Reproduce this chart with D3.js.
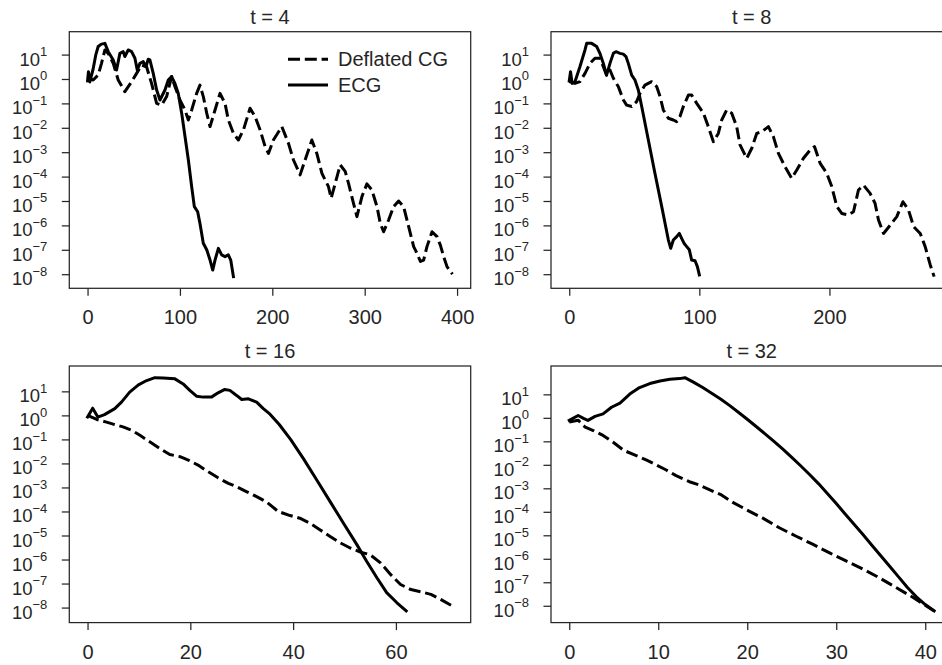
<!DOCTYPE html>
<html>
<head>
<meta charset="utf-8">
<script src="https://cdn.jsdelivr.net/npm/d3@7/dist/d3.min.js"></script>
<style>
  html, body { margin: 0; padding: 0; background: #fff; }
  svg { display: block; overflow: hidden; }
  text { font-family: "Liberation Sans", Arial, sans-serif; fill: #262626; }
</style>
</head>
<body>
<svg id="chart" width="942" height="665"></svg>
<script>
// ---------------- DATA (x = iteration, y = log10 of residual) ----------------
const panelTitles = ["t = 4", "t = 8", "t = 16", "t = 32"];
const seriesNames = ["Deflated CG", "ECG"];

const t4XTicks = [0, 100, 200, 300, 400];
const t8XTicks = [0, 100, 200];
const t16XTicks = [0, 20, 40, 60];
const t32XTicks = [0, 10, 20, 30, 40];
const yTickExponents = [1, 0, -1, -2, -3, -4, -5, -6, -7, -8];

const t4Ecg = [[0,-0.08],[1,0.3],[2.5,-0.12],[6,0.4],[9,1.0],[11.5,1.33],[15,1.43],[18.8,1.46],[22.4,1.12],[27.8,0.78],[31.4,0.37],[35,1.05],[38.6,1.12],[40.4,0.92],[44,1.19],[47.7,1.12],[51.3,0.85],[53.8,0.37],[56.7,0.64],[60.3,0.71],[63.2,0.5],[65.7,0.81],[67.5,0.78],[71.1,0.23],[74.8,-0.45],[78.4,-0.86],[83.8,-0.45],[87.4,-0.04],[91,0.1],[94.6,-0.18],[98.2,-0.59],[101.9,-1.4],[105.5,-2.36],[109.1,-3.31],[112.7,-4.41],[115.6,-5.23],[119.2,-5.44],[121.7,-5.92],[125.3,-6.73],[129,-7.0],[132.6,-7.42],[135.5,-7.83],[138,-7.42],[141.6,-6.94],[145.2,-7.21],[148.8,-7.28],[152.4,-7.21],[155,-7.42],[157.9,-8.1]];
const t4Dcg = [[0,0.03],[6.1,-0.04],[11.5,0.16],[15.1,0.64],[18.8,1.19],[22.4,1.05],[27.8,0.64],[33.2,-0.04],[40.4,-0.52],[47.7,-0.11],[53.1,0.23],[58.5,0.57],[63.9,0.5],[69.3,-0.18],[74.8,-1.0],[80.2,-1.07],[85.6,-0.72],[91,0.1],[94.6,-0.31],[100,-0.86],[105.5,-1.27],[109.1,-1.68],[112.7,-1.27],[118.1,-0.59],[121.7,-0.25],[125.3,-0.72],[129,-1.4],[132.6,-1.95],[138,-1.27],[143.4,-0.59],[148.8,-1.0],[152.4,-1.68],[157.9,-2.23],[163.3,-2.5],[168.7,-2.09],[175.9,-1.2],[181.3,-1.54],[186.8,-2.09],[192.2,-2.77],[195.8,-3.05],[201.2,-2.5],[210.3,-1.95],[217.5,-2.64],[222.9,-3.32],[230.1,-3.93],[235.5,-3.32],[242.8,-2.5],[248.2,-3.05],[253.7,-3.87],[260.8,-4.41],[263.7,-4.89],[268.1,-4.28],[273.5,-3.52],[278.9,-3.79],[282.5,-4.28],[287.9,-5.1],[291.6,-5.64],[297,-4.82],[302.4,-4.3],[307.8,-4.55],[313.3,-5.23],[316.9,-5.92],[320.5,-6.26],[325.9,-5.78],[331.3,-5.23],[336.7,-5.0],[342.1,-5.23],[347.6,-6.05],[353,-6.87],[356.6,-7.14],[360.3,-7.48],[363.8,-7.42],[367.4,-6.87],[372.9,-6.26],[378.3,-6.46],[381.9,-6.81],[385.5,-7.28],[389.1,-7.69],[395,-8.0]];

const t8Ecg = [[0,-0.08],[1,0.3],[2.2,-0.18],[4.4,-0.11],[8.2,0.5],[12.1,1.19],[13.4,1.46],[17.2,1.46],[21.1,1.33],[23.6,1.05],[26.2,0.64],[28.7,0.16],[31.3,0.64],[33.9,1.05],[35.9,1.12],[39,1.05],[41.6,1.02],[43.6,0.92],[45.4,0.64],[48,0.16],[50.5,-0.04],[53.1,-0.45],[55.7,-1.13],[60.8,-2.5],[65.9,-3.87],[71.1,-5.23],[76.2,-6.6],[78,-6.94],[80,-6.6],[82.6,-6.46],[84.6,-6.33],[86.4,-6.53],[88.2,-6.73],[90.3,-6.87],[92.3,-7.0],[94.1,-7.42],[96.7,-7.45],[98.5,-7.69],[100,-8.03]];
const t8Dcg = [[0,-0.11],[4.4,-0.18],[8.2,-0.11],[12.1,0.23],[15.9,0.64],[19.8,0.85],[23.6,0.85],[26.2,0.5],[28.7,0.16],[31.3,0.37],[33.9,0.03],[37.7,-0.31],[41.6,-0.86],[44.1,-1.07],[48,-1.13],[51.8,-0.93],[54.4,-0.59],[58.2,-0.25],[63.3,-0.11],[67.2,-0.31],[69.8,-0.72],[72.3,-1.27],[76.2,-1.61],[80,-1.68],[82.6,-1.75],[85.1,-1.54],[87.7,-1.13],[91.6,-0.66],[94.1,-0.66],[98,-1.0],[103.1,-1.4],[106.9,-1.95],[110.8,-2.57],[114.6,-2.23],[117.2,-1.68],[121,-1.27],[124.9,-1.4],[128.7,-1.95],[131.3,-2.7],[136.4,-3.25],[140.3,-2.84],[144.1,-2.23],[148,-2.16],[153.1,-1.95],[156.9,-2.36],[160.8,-3.05],[165.9,-3.6],[171,-4.07],[174.9,-3.73],[180,-3.25],[185.2,-2.91],[188.5,-2.77],[192.9,-3.46],[198,-3.87],[201.8,-4.41],[205.7,-5.23],[209.5,-5.51],[214.6,-5.57],[218.5,-5.44],[222.3,-4.55],[226.2,-4.35],[231.3,-4.69],[235.1,-5.1],[237.7,-5.78],[241.6,-6.33],[246.7,-5.99],[251.8,-5.64],[256.5,-5.03],[260.8,-5.37],[264.7,-6.05],[269.8,-6.33],[273.6,-6.87],[277.5,-7.62],[280.5,-8.1]];

const t16Ecg = [[0,-0.07],[1,0.3],[2,-0.07],[3.3,0.03],[5.3,0.28],[6.6,0.55],[8.2,0.97],[9.9,1.27],[11.5,1.45],[13.1,1.57],[14.7,1.56],[17,1.52],[18.6,1.31],[19.9,1.04],[21.2,0.8],[22.5,0.76],[24.1,0.76],[25.4,0.94],[26.7,1.08],[27.7,1.04],[29,0.83],[30,0.66],[31.3,0.69],[32.9,0.55],[34.2,0.28],[35.5,0.05],[37.3,-0.38],[39.5,-1.0],[42,-1.8],[44.6,-2.69],[47.2,-3.59],[49.8,-4.49],[52.4,-5.38],[54.3,-6.07],[56.3,-6.76],[58.2,-7.38],[60.2,-7.8],[62,-8.14]];
const t16Dcg = [[0,0.0],[1.8,-0.17],[3.7,-0.28],[5.7,-0.41],[6.9,-0.48],[8.6,-0.62],[10.2,-0.83],[12.1,-1.1],[14.1,-1.38],[16,-1.63],[18,-1.72],[19.6,-1.86],[21.5,-2.07],[23.5,-2.35],[25.4,-2.6],[27.4,-2.83],[29,-2.97],[30.9,-3.17],[32.9,-3.38],[34.8,-3.6],[37.1,-4.0],[39.4,-4.17],[41.3,-4.28],[43.3,-4.49],[45.2,-4.76],[47.2,-5.04],[49.2,-5.31],[51.1,-5.52],[53.1,-5.69],[55,-5.8],[57,-6.14],[59,-6.63],[60.9,-7.04],[62.9,-7.25],[64.8,-7.34],[66.8,-7.45],[68.7,-7.66],[71,-7.94]];

const t32Ecg = [[0,-0.11],[1,0.1],[1.6,-0.02],[2.1,-0.11],[2.9,0.06],[3.8,0.17],[4.75,0.45],[5.7,0.63],[6.8,1.01],[7.9,1.29],[9.05,1.46],[10.2,1.57],[11.3,1.64],[12.4,1.67],[13,1.71],[14,1.51],[15,1.29],[16,1.05],[17,0.8],[18,0.53],[19,0.24],[20,-0.06],[21,-0.37],[22,-0.68],[23,-1.0],[24,-1.33],[25,-1.68],[26,-2.04],[27,-2.41],[28,-2.8],[29,-3.22],[30,-3.65],[31,-4.09],[32,-4.53],[33,-4.97],[34,-5.42],[35,-5.87],[36,-6.32],[37,-6.77],[38,-7.22],[39,-7.62],[40,-7.95],[41,-8.22]];
const t32Dcg = [[0,-0.18],[1,-0.1],[1.8,-0.4],[2.7,-0.54],[3.8,-0.75],[4.9,-1.03],[6.1,-1.38],[7.4,-1.59],[8.7,-1.8],[9.8,-2.01],[10.9,-2.22],[12,-2.46],[13.5,-2.72],[14.6,-2.86],[15.8,-3.07],[17.1,-3.28],[18.2,-3.56],[19.9,-3.91],[21.7,-4.26],[23.6,-4.68],[25.5,-5.04],[27.4,-5.39],[29.2,-5.74],[31.1,-6.09],[33,-6.44],[34.8,-6.8],[36.7,-7.22],[38.6,-7.64],[41,-8.22]];

// ---------------- LAYOUT ----------------
const colLeft = [69.3, 551];
const rowTop = [31.7, 366];
const panelW = 401.4, panelH = 256.6;
const ink = "#262626";
const fontSize = 20;
const yFontSize = 18.5;
const lineW = 3;
const dash = "12,4.8";

const panels = [
  {title: panelTitles[0], dcg: t4Dcg, ecg: t4Ecg, xticks: t4XTicks, col: 0, row: 0, legend: true},
  {title: panelTitles[1], dcg: t8Dcg, ecg: t8Ecg, xticks: t8XTicks, col: 1, row: 0},
  {title: panelTitles[2], dcg: t16Dcg, ecg: t16Ecg, xticks: t16XTicks, col: 0, row: 1},
  {title: panelTitles[3], dcg: t32Dcg, ecg: t32Ecg, xticks: t32XTicks, col: 1, row: 1}
];

const svg = d3.select("#chart");

panels.forEach((p, i) => {
  const left = colLeft[p.col], top = rowTop[p.row];
  const g = svg.append("g").attr("transform", `translate(${left},${top})`);
  const all = p.dcg.concat(p.ecg);
  const [x0, x1] = d3.extent(all, d => d[0]);
  const [l0, l1] = d3.extent(all, d => d[1]);
  const mx = (x1 - x0) * 0.05, my = (l1 - l0) * 0.05;
  const x = d3.scaleLinear().domain([x0 - mx, x1 + mx]).range([0, panelW]);
  const y = d3.scaleLog().domain([Math.pow(10, l0 - my), Math.pow(10, l1 + my)]).range([panelH, 0]);

  const line = d3.line().x(d => x(d[0])).y(d => y(Math.pow(10, d[1])));

  g.append("path").datum(p.dcg).attr("d", line)
    .attr("fill", "none").attr("stroke", "#000").attr("stroke-width", lineW)
    .attr("stroke-dasharray", dash).attr("stroke-linejoin", "round").attr("stroke-linecap", "butt");
  g.append("path").datum(p.ecg).attr("d", line)
    .attr("fill", "none").attr("stroke", "#000").attr("stroke-width", lineW)
    .attr("stroke-linejoin", "round").attr("stroke-linecap", "square");

  // frame
  g.append("rect").attr("x", 0).attr("y", 0).attr("width", panelW).attr("height", panelH)
    .attr("fill", "none").attr("stroke", ink).attr("stroke-width", 1.25);

  // x axis
  const xAxis = d3.axisBottom(x).tickValues(p.xticks).tickSize(7.5).tickPadding(0).tickFormat(d3.format("d"));
  const xg = g.append("g").attr("transform", `translate(0,${panelH})`).call(xAxis);
  xg.select(".domain").remove();
  xg.selectAll(".tick line").attr("stroke", ink).attr("stroke-width", 1.25);
  xg.selectAll(".tick text").attr("y", 36).attr("dy", null)
    .style("font-size", fontSize + "px").style("font-family", "Liberation Sans, Arial, sans-serif").attr("fill", ink);

  // y axis (log, decade ticks)
  const yAxis = d3.axisLeft(y).tickValues(yTickExponents.map(e => Math.pow(10, e))).tickSize(7.5).tickFormat("");
  const yg = g.append("g").call(yAxis);
  yg.select(".domain").remove();
  yg.selectAll(".tick line").attr("stroke", ink).attr("stroke-width", 1.25);
  yg.selectAll(".tick").each(function(v) {
    const e = Math.round(Math.log10(v));
    const t = d3.select(this).append("text")
      .attr("x", -22).attr("y", 10.5).attr("text-anchor", "end")
      .style("font-size", yFontSize + "px").attr("fill", ink);
    t.append("tspan").text("10");
    t.append("tspan").attr("dy", -9.5).style("font-size", "13px")
      .text(e < 0 ? "\u2212" + Math.abs(e) : String(e));
  });

  // title
  g.append("text").attr("x", panelW / 2).attr("y", -8).attr("text-anchor", "middle")
    .style("font-size", fontSize + "px").text(p.title);

  if (p.legend) {
    const lg = g.append("g").attr("transform", `translate(${288 - left},${59.3 - top})`);
    lg.append("line").attr("x1", 0).attr("x2", 40).attr("y1", 0).attr("y2", 0)
      .attr("stroke", "#000").attr("stroke-width", lineW).attr("stroke-dasharray", dash);
    lg.append("text").attr("x", 50).attr("y", 7).style("font-size", fontSize + "px").text(seriesNames[0]);
    lg.append("line").attr("x1", 0).attr("x2", 40).attr("y1", 25.7).attr("y2", 25.7)
      .attr("stroke", "#000").attr("stroke-width", lineW);
    lg.append("text").attr("x", 50).attr("y", 32.7).style("font-size", fontSize + "px").text(seriesNames[1]);
  }
});
</script>
</body>
</html>
